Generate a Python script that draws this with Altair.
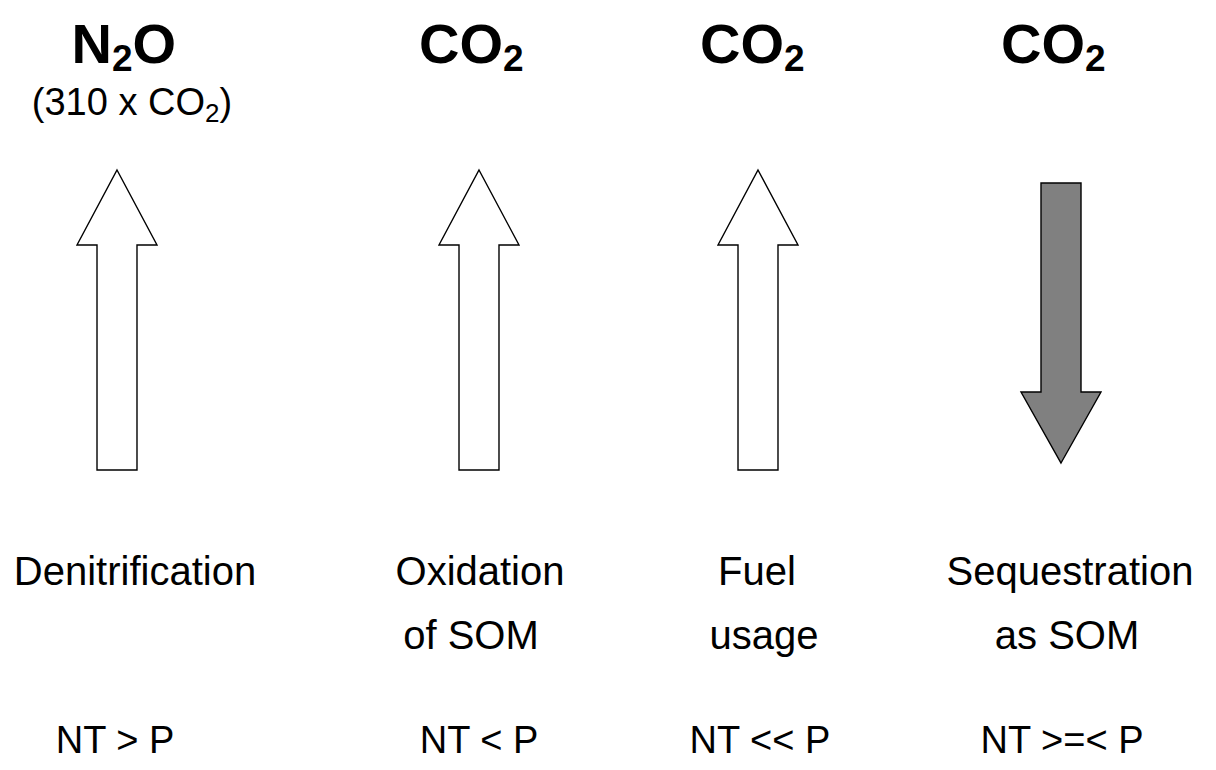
import re
import altair as alt
import pandas as pd

# ---------------- data ----------------
gas = ["N2O", "CO2", "CO2", "CO2"]
gas_note = ["(310 x CO2)", "", "", ""]
process_line1 = ["Denitrification", "Oxidation", "Fuel", "Sequestration"]
process_line2 = ["", "of SOM", "usage", "as SOM"]
flux_direction = ["up", "up", "up", "down"]   # up = emission, down = sequestration
comparison = ["NT > P", "NT < P", "NT << P", "NT >=< P"]

# ---------------- layout (page pixel coordinates) ----------------
FONT = "Liberation Sans"
ARROW_X = [117, 479, 758, 1061]
TITLE_ANCHOR_X = [112, 503, 784, 1085]
NOTE_ANCHOR_X = [205, 0, 0, 0]
LINE1_X = [135, 480, 757, 1070]
LINE2_X = [0, 471, 764, 1067]
COMP_X = [115, 479, 760, 1062]
TITLE_BASE, TITLE_SUB_BASE = 63, 71
NOTE_BASE, NOTE_SUB_BASE = 115, 122
LINE1_BASE, LINE2_BASE, COMP_BASE = 585, 649, 753
TITLE_SIZE, TITLE_SUB_SIZE = 56, 37
NOTE_SIZE, NOTE_SUB_SIZE = 38, 26
LABEL_SIZE = 40
COMP_SIZE = 38
DIGIT_ADV = 0.556


def arrow_path(total, head_len, head_hw, shaft_hw, direction):
    u = total / 2.0
    hw, sw = head_hw / u, shaft_hw / u
    hb = -1 + head_len / u
    pts = [(0, -1), (hw, hb), (sw, hb), (sw, 1), (-sw, 1), (-sw, hb), (-hw, hb)]
    if direction == "down":
        pts = [(x, -y) for x, y in pts]
    return "M" + " L".join(f"{x:.4f},{y:.4f}" for x, y in pts) + " Z"


arrow_rows = []
for i, d in enumerate(flux_direction):
    if d == "up":
        total, head, top = 300, 75, 170
        fill = "#ffffff"
    else:
        total, head, top = 280, 71, 183
        fill = "#808080"
    arrow_rows.append(dict(x=ARROW_X[i], y=top + total / 2,
                           shape=arrow_path(total, head, 40, 20, d),
                           size=total ** 2, fill=fill))
arrows_df = pd.DataFrame(arrow_rows)


def split_formula(s):
    m = re.match(r"^(.*[A-Za-z])(\d)(.*)$", s)
    return (m.group(1), m.group(2), m.group(3)) if m else (s, "", "")


main_rows, sub_rows, suf_rows = [], [], []
nmain_rows, nsub_rows, nsuf_rows = [], [], []
for i, g in enumerate(gas):
    p, d, s = split_formula(g)
    a = TITLE_ANCHOR_X[i]
    main_rows.append(dict(x=a, y=TITLE_BASE, t=p))
    if d:
        sub_rows.append(dict(x=a, y=TITLE_SUB_BASE, t=d))
    if s:
        suf_rows.append(dict(x=a + DIGIT_ADV * TITLE_SUB_SIZE, y=TITLE_BASE, t=s))
    if gas_note[i]:
        p, d, s = split_formula(gas_note[i])
        a = NOTE_ANCHOR_X[i]
        nmain_rows.append(dict(x=a, y=NOTE_BASE, t=p))
        if d:
            nsub_rows.append(dict(x=a, y=NOTE_SUB_BASE, t=d))
        if s:
            nsuf_rows.append(dict(x=a + DIGIT_ADV * NOTE_SUB_SIZE, y=NOTE_BASE, t=s))

label_rows = []
comp_rows = []
for i in range(4):
    label_rows.append(dict(x=LINE1_X[i], y=LINE1_BASE, t=process_line1[i]))
    if process_line2[i]:
        label_rows.append(dict(x=LINE2_X[i], y=LINE2_BASE, t=process_line2[i]))
    comp_rows.append(dict(x=COMP_X[i], y=COMP_BASE, t=comparison[i]))

X = alt.X("x:Q", scale=alt.Scale(domain=[8, 1208], nice=False, zero=False), axis=None)
Y = alt.Y("y:Q", scale=alt.Scale(domain=[8, 762], reverse=True, nice=False, zero=False), axis=None)


def text_layer(rows, size, weight, align):
    return alt.Chart(pd.DataFrame(rows)).mark_text(
        font=FONT, fontSize=size, fontWeight=weight, align=align,
        baseline="alphabetic", color="black"
    ).encode(x=X, y=Y, text="t:N")


arrows = alt.Chart(arrows_df).mark_point(
    filled=True, opacity=1, stroke="black", strokeWidth=1.4
).encode(
    x=X, y=Y,
    shape=alt.Shape("shape:N", scale=None),
    size=alt.Size("size:Q", scale=None),
    fill=alt.Fill("fill:N", scale=None),
)

layers = [
    arrows,
    text_layer(main_rows, TITLE_SIZE, "bold", "right"),
    text_layer(sub_rows, TITLE_SUB_SIZE, "bold", "left"),
    text_layer(suf_rows, TITLE_SIZE, "bold", "left"),
    text_layer(nmain_rows, NOTE_SIZE, "normal", "right"),
    text_layer(nsub_rows, NOTE_SUB_SIZE, "normal", "left"),
    text_layer(nsuf_rows, NOTE_SIZE, "normal", "left"),
    text_layer(label_rows, LABEL_SIZE, "normal", "center"),
    text_layer(comp_rows, COMP_SIZE, "normal", "center"),
]

chart = alt.layer(*layers).properties(
    width=1200, height=754, padding=0,
    autosize=alt.AutoSizeParams(type="fit", contains="padding"),
    background="white",
).configure_view(stroke=None)

chart.save("out.html", embed_options={"renderer": "svg", "actions": False})
